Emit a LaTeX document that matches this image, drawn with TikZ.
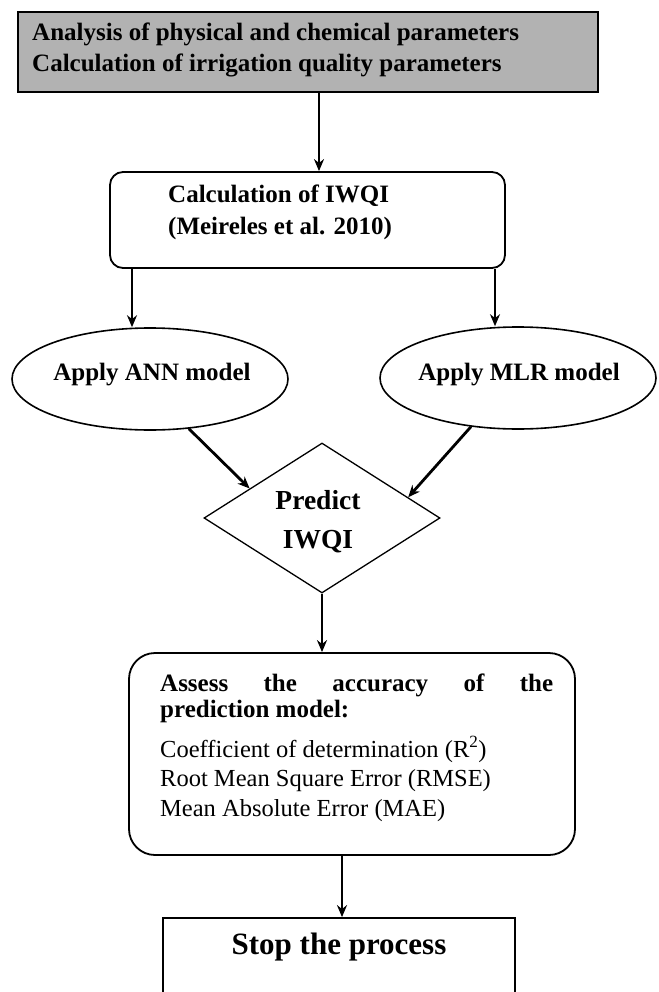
\documentclass[tikz,border=0pt]{standalone}
\usepackage{fontspec}
\setmainfont{Liberation Serif}
\usetikzlibrary{shapes.geometric,arrows.meta,calc}
\definecolor{topgray}{RGB}{178,178,178}
\begin{document}
\begin{tikzpicture}[x=1pt,y=-1pt,
  boxline/.style={draw=black, line width=1.8pt, inner sep=0pt},
  arr/.style={-{Stealth[length=12pt,width=10pt]}, line width=2.8pt},
  btxt/.style={inner sep=0pt, font=\fontsize{25}{29}\selectfont\bfseries},
  rtxt/.style={inner sep=0pt, anchor=base west, font=\fontsize{24.5}{29}\selectfont}
]
\useasboundingbox (0,0) rectangle (658,992);
\clip (0,0) rectangle (658,992);

% shapes
\node[boxline, rectangle, fill=topgray, minimum width=580pt, minimum height=80pt] (top) at (308,52) {};
\node[boxline, rectangle, rounded corners=13pt, minimum width=395pt, minimum height=96pt] (calc) at (307.5,220) {};
\node[boxline, ellipse, line width=1.6pt, minimum width=276pt, minimum height=102pt] (ann) at (150,379) {};
\node[boxline, ellipse, line width=1.6pt, minimum width=276pt, minimum height=102pt] (mlr) at (518,378) {};
\node[boxline, diamond, line width=1.3pt, minimum width=236pt, minimum height=150pt] (dia) at (322,518) {};
\node[boxline, rectangle, rounded corners=26pt, minimum width=446pt, minimum height=202pt] (assess) at (352,754) {};
\node[boxline, rectangle, minimum width=352pt, minimum height=90pt] (stop) at (339,963) {};

% texts
\node[btxt, anchor=base west] (t1a) at (32,41) {Analysis of physical and chemical parameters};
\node[btxt, anchor=base west] (t1b) at (32,72) {Calculation of irrigation quality parameters};
\node[btxt, anchor=base west] (t2a) at (168,203) {Calculation of IWQI};
\node[btxt, anchor=base west] (t2b) at (168,234) {(Meireles et al. 2010)};
\node[btxt, anchor=base] (t3) at (152,380) {Apply ANN model};
\node[btxt, anchor=base] (t4) at (519,380) {Apply MLR model};
\node[btxt, anchor=base, font=\fontsize{27.5}{32}\selectfont\bfseries] (t5a) at (318,509) {Predict};
\node[btxt, anchor=base, font=\fontsize{27.5}{32}\selectfont\bfseries] (t5b) at (318,548) {IWQI};
\node[btxt, anchor=base west] (t6a) at (160,691) {\makebox[393pt][s]{Assess the accuracy of the}};
\node[btxt, anchor=base west] (t6b) at (160,717) {prediction model:};
\node[rtxt] (t6c) at (160,757) {Coefficient of determination (R\textsuperscript{2})};
\node[rtxt] (t6d) at (160,786) {Root Mean Square Error (RMSE)};
\node[rtxt] (t6e) at (160,816) {Mean Absolute Error (MAE)};
\node[btxt, anchor=base, font=\fontsize{31}{36}\selectfont\bfseries] (t7) at (339,954) {Stop the process};

% connectors
\draw[arr] ([xshift=11pt]top.south) -- ([xshift=11.5pt]calc.north);
\draw[arr] ([xshift=-175.5pt]calc.south) -- ([xshift=-18pt]ann.north);
\draw[arr] ([xshift=187.5pt]calc.south) -- ([xshift=-23pt]mlr.north);
\draw[arr] (ann.-52) -- ($(dia.north)!0.61!(dia.west)$);
\draw[arr] (mlr.-134.4) -- ($(dia.north)!0.726!(dia.east)$);
\draw[arr] (dia.south) -- (dia.south |- assess.north);
\draw[arr] ([xshift=-10pt]assess.south) -- ([xshift=3pt]stop.north);
\end{tikzpicture}
\end{document}
